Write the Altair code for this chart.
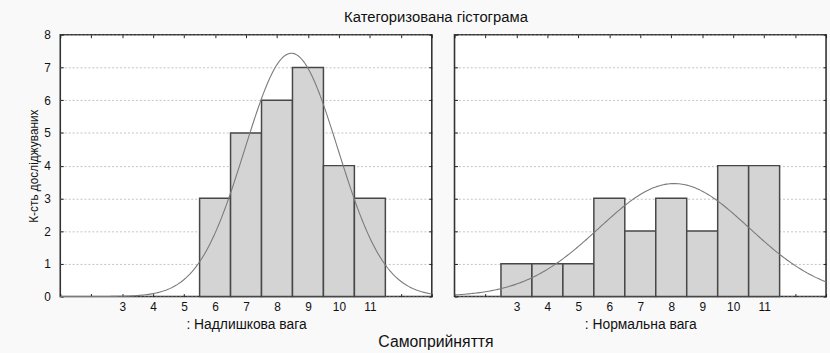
import altair as alt
import pandas as pd

# ---- data ----
bins = [3, 4, 5, 6, 7, 8, 9, 10, 11]
counts_over = [0, 0, 0, 3, 5, 6, 7, 4, 3]      # ": Надлишкова вага"
counts_norm = [1, 1, 1, 3, 2, 3, 2, 4, 4]      # ": Нормальна вага"
x_ticks = list(range(1, 14))
y_ticks = list(range(0, 9))

FONT = "Liberation Sans"
W, H = 376, 265


def stats(counts):
    n = sum(counts)
    m = sum(b * c for b, c in zip(bins, counts)) / n
    v = sum(c * (b - m) ** 2 for b, c in zip(bins, counts)) / (n - 1)
    return n, m, v ** 0.5


def panel(counts, subtitle, first):
    df = pd.DataFrame({"v": bins, "n": counts})
    df = df[df["n"] > 0]
    df["x0"] = df["v"] - 0.5
    df["x1"] = df["v"] + 0.5
    n, m, s = stats(counts)

    xs = alt.Scale(domain=[1, 13], nice=False, zero=False)
    ys = alt.Scale(domain=[0, 8], nice=False, zero=True)

    bars = alt.Chart(df).mark_rect(
        fill="#d4d4d4", stroke="#474747", strokeWidth=1.5
    ).encode(
        x=alt.X("x0:Q", scale=xs, axis=alt.Axis(
            orient="bottom", values=x_ticks,
            labelExpr="datum.value >= 3 && datum.value <= 11 ? datum.label : ''",
            domain=False, grid=False, tickSize=3, offset=-3, tickColor="#222",
            labelPadding=5, labelFont=FONT, labelFontSize=12, labelColor="#111",
            title=subtitle, titleFont=FONT, titleFontSize=14, titleFontWeight="normal",
            titleColor="#111", titlePadding=5)),
        x2="x1:Q",
        y=alt.Y("n:Q", scale=ys, axis=alt.Axis(
            orient="left", values=y_ticks, domain=False, grid=True,
            gridColor="#b4b4b4", gridDash=[2, 2], gridWidth=0.8,
            tickSize=3, offset=-3, tickColor="#222",
            labels=first, labelPadding=10, labelFont=FONT, labelFontSize=12,
            labelColor="#111",
            title="К-сть досліджуваних" if first else None,
            titleFont=FONT, titleFontSize=12, titleFontWeight="normal",
            titleColor="#111", titlePadding=3)),
        y2=alt.datum(0),
    )

    curve = alt.Chart(alt.sequence(1, 13.001, 0.05, as_="x")).transform_calculate(
        y=f"{n} * exp(-0.5 * pow((datum.x - {m}) / {s}, 2)) / ({s} * sqrt(2 * PI))"
    ).mark_line(color="#7a7a7a", strokeWidth=1.1).encode(
        x=alt.X("x:Q", scale=xs, axis=alt.Axis(
            orient="top", values=x_ticks, labels=False, domain=False, grid=False,
            tickSize=3, offset=-3, tickColor="#222", title=None)),
        y=alt.Y("y:Q", scale=ys, axis=alt.Axis(
            orient="right", values=y_ticks, labels=False, domain=False, grid=False,
            tickSize=3, offset=-3, tickColor="#222", title=None)),
    )

    return alt.layer(bars, curve).resolve_axis(x="independent", y="independent").properties(
        width=W, height=H
    )


left = panel(counts_over, ": Надлишкова вага", True)
right = panel(counts_norm, ": Нормальна вага", False)

inner = alt.hconcat(left, right, spacing=17).properties(
    title=alt.TitleParams("Категоризована гістограма", font=FONT, fontSize=15,
                          fontWeight="normal", color="#111", anchor="middle",
                          offset=3, dx=8)
)

chart = alt.vconcat(inner).properties(
    title=alt.TitleParams("Самоприйняття", orient="bottom", font=FONT, fontSize=16,
                          fontWeight="normal", color="#111", anchor="middle",
                          offset=2, dx=8),
    background="#f9f9f9",
    padding={"left": 27, "top": 8, "right": 1, "bottom": 1},
).configure_view(stroke="#333333", strokeWidth=1.6, fill="white")

chart.save("out.html", embed_options={"renderer": "svg", "actions": False})
